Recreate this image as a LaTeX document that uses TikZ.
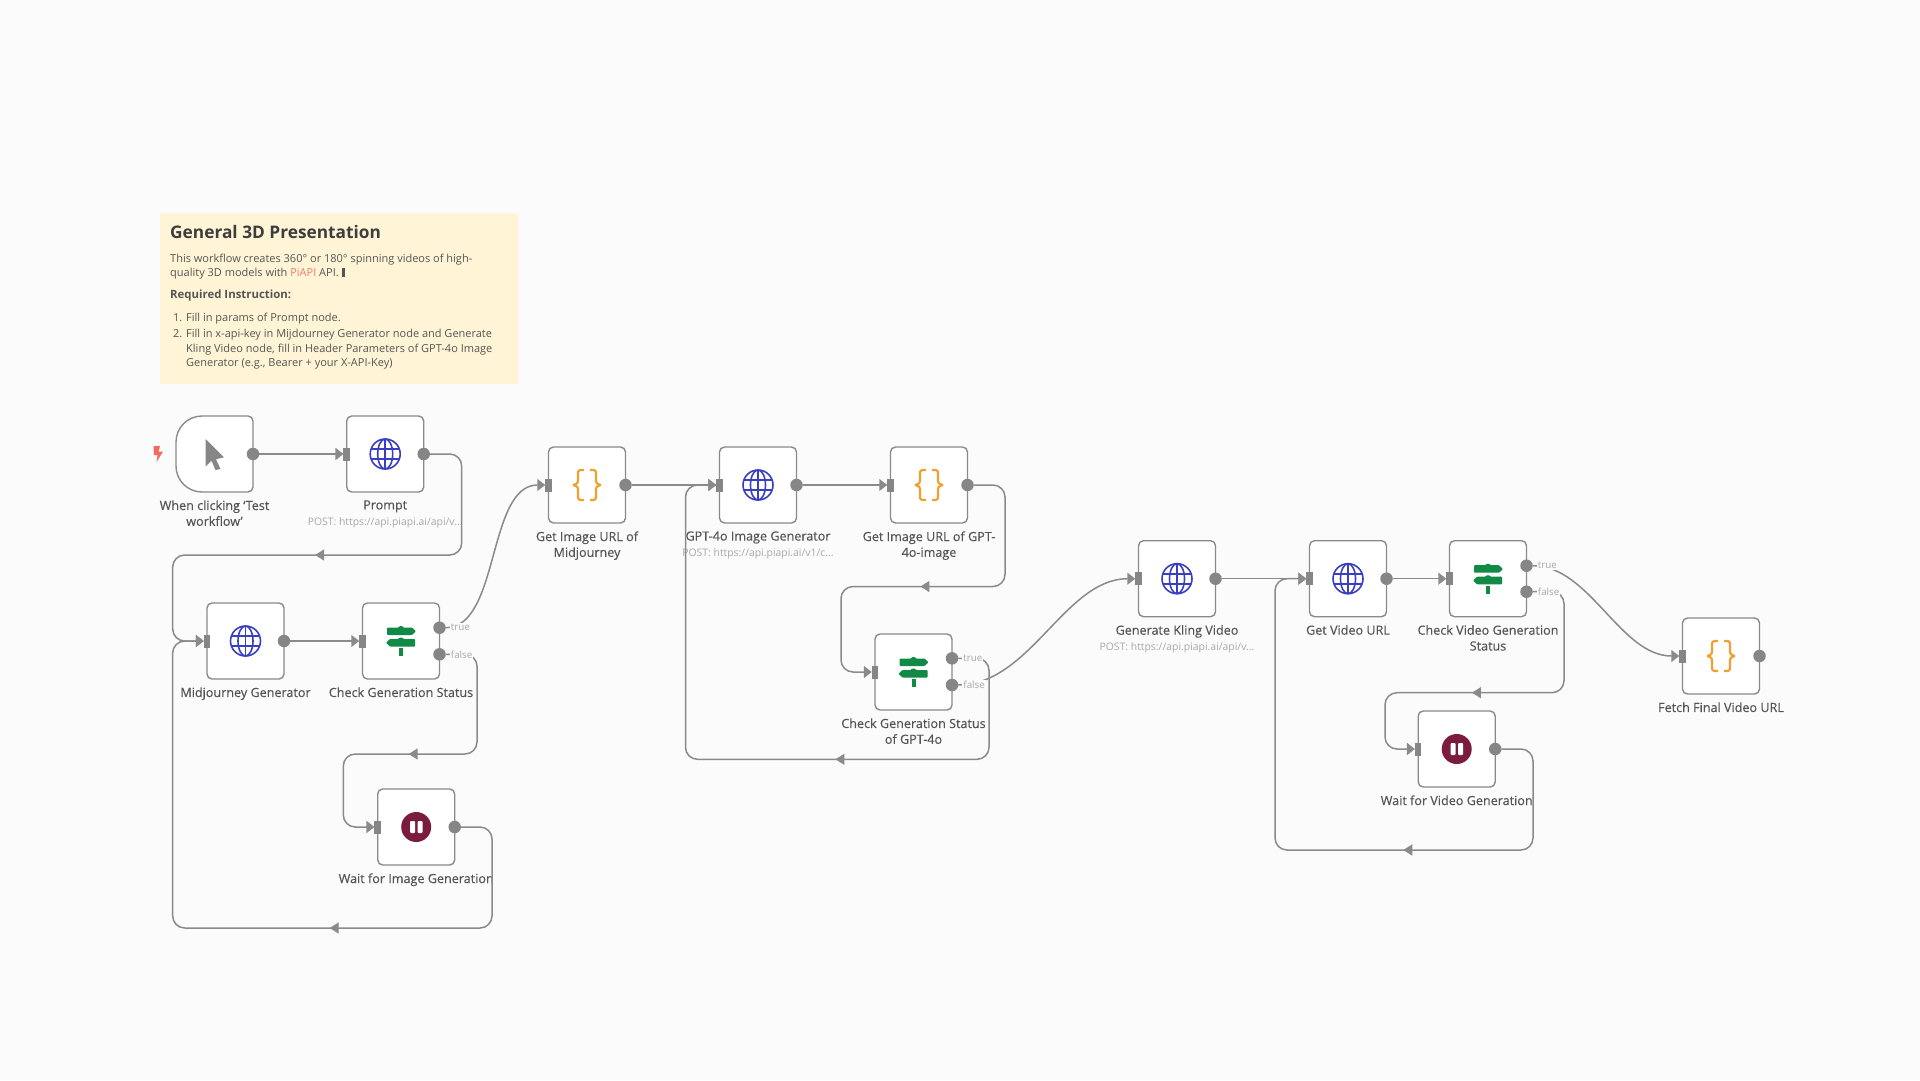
\documentclass[tikz,border=0pt]{standalone}
\usepackage{fontspec}
\setmainfont{Open Sans}
\newfontfamily\mediumfont[FakeBold=0.25]{Open Sans}
\usepackage{tikz}
\usetikzlibrary{positioning,arrows.meta,decorations.markings}

\definecolor{canvasbg}{HTML}{FBFBFB}
\definecolor{notefill}{HTML}{FFF5D6}
\definecolor{inkdark}{HTML}{3D3D3D}
\definecolor{inkbody}{HTML}{555555}
\definecolor{inkfaint}{HTML}{A8A8A8}
\definecolor{linkgray}{HTML}{8A8A8A}
\definecolor{portgray}{HTML}{868686}
\definecolor{globeblue}{HTML}{3A3FC2}
\definecolor{signgreen}{HTML}{108A45}
\definecolor{braceorange}{HTML}{F0A030}
\definecolor{pausered}{HTML}{7B1C3F}
\definecolor{boltred}{HTML}{F4695B}
\definecolor{piapired}{HTML}{E9806F}

\tikzset{
	boxnode/.style={draw=linkgray, line width=1.4pt, fill=white, rounded corners=5pt, minimum width=77pt, minimum height=76pt, inner sep=0pt, outer sep=0pt},
	outport/.style={circle, fill=portgray, minimum size=12.5pt, inner sep=0pt, outer sep=0pt},
	inport/.style={rectangle, fill=portgray, minimum width=6.5pt, minimum height=13pt, inner sep=0pt, outer sep=0pt},
	boxlabel/.style={font=\mediumfont\fontsize{12.6}{15.8}\selectfont, text=inkbody, align=center, inner sep=0pt},
	sublabel/.style={font=\fontsize{10.4}{12}\selectfont, text=inkfaint, inner sep=0pt},
	branchlabel/.style={font=\fontsize{9.8}{12}\selectfont, text=inkfaint, fill=canvasbg, inner xsep=1pt, inner ysep=1pt},
	noteline/.style={font=\fontsize{11}{13}\selectfont, text=inkbody, anchor=west, inner sep=0pt},
	link/.style={draw=linkgray, line width=1.5pt, rounded corners=12pt},
	linkin/.style={link, -{Triangle[length=8pt,width=12pt]}},
	flowtip/.style={postaction={decorate}, decoration={markings, mark=at position #1 with {\arrow{Triangle[length=9pt,width=11pt]}}}},
	globeicon/.pic={
		\draw[globeblue, line width=1.6pt] (0,0) circle (15);
		\draw[globeblue, line width=1.6pt] (0,0) ellipse (7.5 and 15);
		\draw[globeblue, line width=1.6pt] (0,-15) -- (0,15);
		\draw[globeblue, line width=1.6pt] (-14,-5) -- (14,-5);
		\draw[globeblue, line width=1.6pt] (-14,5) -- (14,5);
	},
	signicon/.pic={
		\fill[signgreen, rounded corners=0.8pt] (-14,-13.5) -- (-2,-13.5) -- (-2,-14.8) -- (2,-14.8) -- (2,-13.5) -- (11,-13.5) -- (15,-9.7) -- (11,-6) -- (-14,-6) -- cycle;
		\fill[signgreen, rounded corners=0.8pt] (14,-2) -- (2,-2) -- (2,-3.3) -- (-2,-3.3) -- (-2,-2) -- (-11,-2) -- (-15,1.8) -- (-11,5.6) -- (14,5.6) -- cycle;
		\fill[signgreen] (-2,7.3) rectangle (2,15);
	},
	braceicon/.pic={
		\draw[braceorange, line width=2.2pt, rounded corners=2.5pt] (-3,-15) -- (-9,-15) -- (-9,-1.5) -- (-14,0);
		\draw[braceorange, line width=2.2pt, rounded corners=2.5pt] (-14,0) -- (-9,1.5) -- (-9,15) -- (-3,15);
		\draw[braceorange, line width=2.2pt, rounded corners=2.5pt] (3,-15) -- (9,-15) -- (9,-1.5) -- (14,0);
		\draw[braceorange, line width=2.2pt, rounded corners=2.5pt] (14,0) -- (9,1.5) -- (9,15) -- (3,15);
	},
	pauseicon/.pic={
		\fill[pausered] (0,0) circle (15);
		\fill[white, rounded corners=1pt] (-6,-6) rectangle (-1,6);
		\fill[white, rounded corners=1pt] (1.5,-6) rectangle (6.5,6);
	},
	cursoricon/.pic={
		\fill[portgray] (-9,-15) -- (9.5,3.3) -- (1.5,5.3) -- (6,15) -- (1,16) -- (-3,6.7) -- (-9,12.7) -- cycle;
	},
	bolticon/.pic={
		\fill[boltred] (-4.5,-8) -- (2,-8) -- (0.5,-2.5) -- (5,-2.5) -- (-1.5,8) -- (-0.5,1) -- (-4,1) -- cycle;
	}
}

\begin{document}
\begin{tikzpicture}[x=1pt, y=-1pt]
	\fill[canvasbg] (0,0) rectangle (1920,1080);
	\useasboundingbox (0,0) rectangle (1920,1080);

	% sticky note
	\node[fill=notefill, minimum width=358pt, minimum height=171pt, inner sep=0pt, rounded corners=2pt] (note) at (339,298.5) {};
	\node[noteline, font=\fontsize{17.3}{20}\selectfont\bfseries, text=inkdark] (notetitle) at (170,232.5) {General 3D Presentation};
	\node[noteline] (noteintroa) at (170,259.5) {This workflow creates 360° or 180° spinning videos of high-};
	\node[noteline] (noteintrob) at (170,273.5) {quality 3D models with \textcolor{piapired}{PiAPI} API. \textcolor{inkbody}{\rule[-0.5pt]{3.6pt}{9pt}}};
	\node[noteline, font=\fontsize{11.4}{13}\selectfont\bfseries] (notereq) at (170,296) {Required Instruction:};
	\node[noteline] (notefirst) at (173,318.5) {\makebox[13pt][l]{1.}Fill in params of Prompt node.};
	\node[noteline] (notesecond) at (173,334.5) {\makebox[13pt][l]{2.}Fill in x-api-key in Mijdourney Generator node and Generate};
	\node[noteline] (notesecondb) at (186,349.5) {Kling Video node, fill in Header Parameters of GPT-4o Image};
	\node[noteline] (notesecondc) at (186,363.5) {Generator (e.g., Bearer + your X-API-Key)};

	% trigger
	\node[minimum width=77pt, minimum height=76pt, inner sep=0pt, outer sep=0pt] (trigger) at (214.5,454) {};
	\draw[draw=linkgray, line width=1.4pt, fill=white, rounded corners=5pt] (214.5,416) -- (trigger.north east) -- (trigger.south east) -- (214.5,492) [rounded corners=26pt] -- (trigger.south west) -- (trigger.north west) [rounded corners=5pt] -- cycle;
	\pic at (trigger.center) {cursoricon};
	\pic at (158,454) {bolticon};
	\node[outport] (triggerout) at (trigger.east) {};
	\node[boxlabel, below=8.2pt of trigger] (triggerlabel) {When clicking ‘Test\\workflow’};

	% first row
	\node[boxnode] (prompt) at (385.2,454) {};
	\pic at (prompt.center) {globeicon};
	\node[inport] (promptin) at (prompt.west) {};
	\node[outport] (promptout) at (prompt.east) {};
	\node[boxlabel, below=8.2pt of prompt] (promptlabel) {Prompt};
	\node[sublabel, below=4.5pt of promptlabel] (promptsub) {POST: https://api.piapi.ai/api/v...};

	\node[boxnode] (midjourney) at (245.5,641) {};
	\pic at (midjourney.center) {globeicon};
	\node[inport] (midjourneyin) at (midjourney.west) {};
	\node[outport] (midjourneyout) at (midjourney.east) {};
	\node[boxlabel, below=8.2pt of midjourney] (midjourneylabel) {Midjourney Generator};

	\node[boxnode] (checkimg) at (401,641) {};
	\pic at (checkimg.center) {signicon};
	\node[inport] (checkimgin) at (checkimg.west) {};
	\node[outport] (checkimgtrue) at (439.5,627.7) {};
	\node[outport] (checkimgfalse) at (439.5,654.3) {};
	\node[boxlabel, below=8.2pt of checkimg] (checkimglabel) {Check Generation Status};

	\node[boxnode] (waitimg) at (416.2,827) {};
	\pic at (waitimg.center) {pauseicon};
	\node[inport] (waitimgin) at (waitimg.west) {};
	\node[outport] (waitimgout) at (waitimg.east) {};
	\node[boxlabel, below=8.2pt of waitimg] (waitimglabel) {Wait for Image Generation};

	% gpt group
	\node[boxnode] (urlmid) at (587,485) {};
	\pic at (urlmid.center) {braceicon};
	\node[inport] (urlmidin) at (urlmid.west) {};
	\node[outport] (urlmidout) at (urlmid.east) {};
	\node[boxlabel, below=8.2pt of urlmid] (urlmidlabel) {Get Image URL of\\Midjourney};

	\node[boxnode] (gptgen) at (758,485) {};
	\pic at (gptgen.center) {globeicon};
	\node[inport] (gptgenin) at (gptgen.west) {};
	\node[outport] (gptgenout) at (gptgen.east) {};
	\node[boxlabel, below=8.2pt of gptgen] (gptgenlabel) {GPT-4o Image Generator};
	\node[sublabel, below=4.5pt of gptgenlabel] (gptgensub) {POST: https://api.piapi.ai/v1/c...};

	\node[boxnode] (urlgpt) at (929,485) {};
	\pic at (urlgpt.center) {braceicon};
	\node[inport] (urlgptin) at (urlgpt.west) {};
	\node[outport] (urlgptout) at (urlgpt.east) {};
	\node[boxlabel, below=8.2pt of urlgpt] (urlgptlabel) {Get Image URL of GPT-\\4o-image};

	\node[boxnode] (checkgpt) at (913.5,672) {};
	\pic at (checkgpt.center) {signicon};
	\node[inport] (checkgptin) at (checkgpt.west) {};
	\node[outport] (checkgpttrue) at (952,658.3) {};
	\node[outport] (checkgptfalse) at (952,685) {};
	\node[boxlabel, below=8.2pt of checkgpt] (checkgptlabel) {Check Generation Status\\of GPT-4o};

	% video group
	\node[boxnode] (kling) at (1177,578.7) {};
	\pic at (kling.center) {globeicon};
	\node[inport] (klingin) at (kling.west) {};
	\node[outport] (klingout) at (kling.east) {};
	\node[boxlabel, below=8.2pt of kling] (klinglabel) {Generate Kling Video};
	\node[sublabel, below=4.5pt of klinglabel] (klingsub) {POST: https://api.piapi.ai/api/v...};

	\node[boxnode] (videourl) at (1348,578.7) {};
	\pic at (videourl.center) {globeicon};
	\node[inport] (videourlin) at (videourl.west) {};
	\node[outport] (videourlout) at (videourl.east) {};
	\node[boxlabel, below=8.2pt of videourl] (videourllabel) {Get Video URL};

	\node[boxnode] (checkvid) at (1488,578.7) {};
	\pic at (checkvid.center) {signicon};
	\node[inport] (checkvidin) at (checkvid.west) {};
	\node[outport] (checkvidtrue) at (1526.5,565.7) {};
	\node[outport] (checkvidfalse) at (1526.5,591.7) {};
	\node[boxlabel, below=8.2pt of checkvid] (checkvidlabel) {Check Video Generation\\Status};

	\node[boxnode] (waitvid) at (1456.7,749) {};
	\pic at (waitvid.center) {pauseicon};
	\node[inport] (waitvidin) at (waitvid.west) {};
	\node[outport] (waitvidout) at (waitvid.east) {};
	\node[boxlabel, below=8.2pt of waitvid] (waitvidlabel) {Wait for Video Generation};

	\node[boxnode] (fetch) at (1721,656) {};
	\pic at (fetch.center) {braceicon};
	\node[inport] (fetchin) at (fetch.west) {};
	\node[outport] (fetchout) at (fetch.east) {};
	\node[boxlabel, below=8.2pt of fetch] (fetchlabel) {Fetch Final Video URL};

	% connectors
	\draw[linkin] (triggerout.east) -- (promptin.west);
	\draw[linkin, flowtip=269pt] (promptout.east) -| (461.7,555) -| (172.7,641) -- (midjourneyin.west);
	\draw[linkin] (midjourneyout.east) -- (checkimgin.west);
	\draw[linkin, flowtip=189pt] (checkimgfalse.east) -| (477,754) -| (343.3,827) -- (waitimgin.west);
	\draw[linkin, flowtip=284pt] (waitimgout.east) -| (492,928) -| (172.7,641) -- (midjourneyin.west);
	\draw[linkin] (checkimgtrue.east) .. controls (500,627.7) and (487,485) .. (urlmidin.west);
	\draw[linkin] (urlmidout.east) -- (gptgenin.west);
	\draw[linkin] (gptgenout.east) -- (urlgptin.west);
	\draw[linkin, flowtip=207pt] (urlgptout.east) -| (1005,586.5) -| (841,672) -- (checkgptin.west);
	\draw[linkin, flowtip=275pt] (checkgpttrue.east) -| (989,759.3) -| (685.5,485) -- (gptgenin.west);
	\draw[linkin] (checkgptfalse.east) .. controls (1030,685) and (1065,578.7) .. (klingin.west);
	\draw[linkin] (klingout.east) -- (videourlin.west);
	\draw[linkin] (videourlout.east) -- (checkvidin.west);
	\draw[linkin, flowtip=214pt] (checkvidfalse.east) -| (1564,692.7) -| (1385,749) -- (waitvidin.west);
	\draw[linkin, flowtip=252pt] (waitvidout.east) -| (1533,850) -| (1275,578.7) -- (videourlin.west);
	\draw[linkin] (checkvidtrue.east) .. controls (1590,565.7) and (1620,656) .. (fetchin.west);

	% branch labels sit over the lines
	\node[branchlabel, right=4pt of checkimgtrue] (checkimgtruelabel) {true};
	\node[branchlabel, right=4pt of checkimgfalse] (checkimgfalselabel) {false};
	\node[branchlabel, right=4pt of checkgpttrue] (checkgpttruelabel) {true};
	\node[branchlabel, right=4pt of checkgptfalse] (checkgptfalselabel) {false};
	\node[branchlabel, right=4pt of checkvidtrue] (checkvidtruelabel) {true};
	\node[branchlabel, right=4pt of checkvidfalse] (checkvidfalselabel) {false};
\end{tikzpicture}
\end{document}
